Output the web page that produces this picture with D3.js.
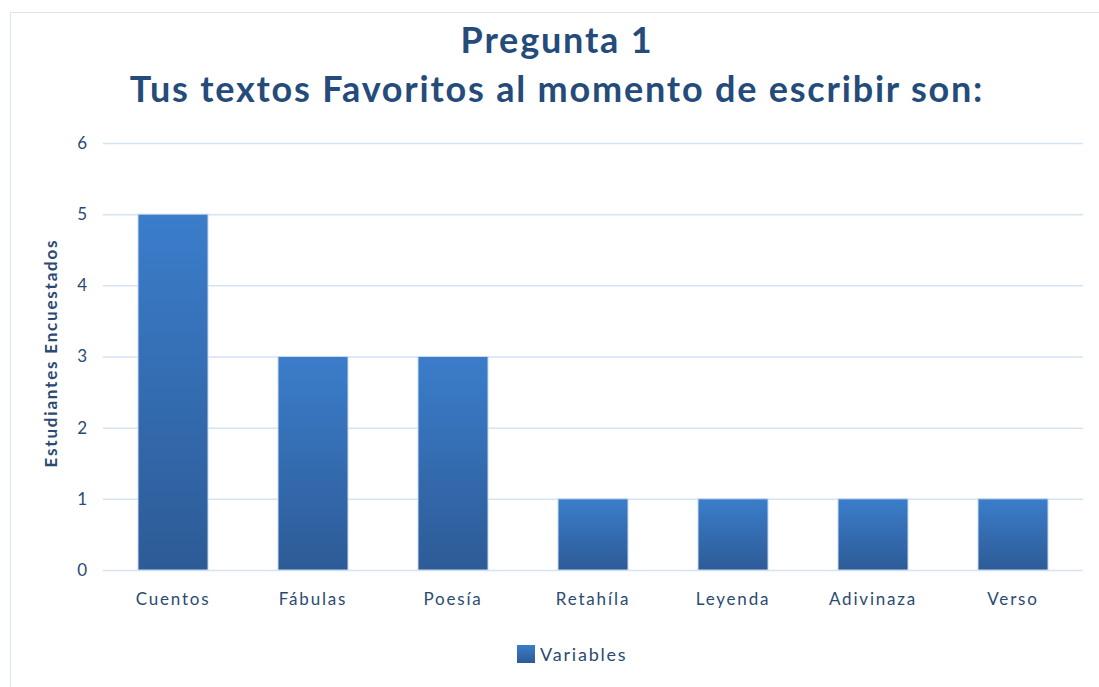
<!DOCTYPE html>
<html>
<head>
<meta charset="utf-8">
<script src="https://cdn.jsdelivr.net/npm/d3@7"></script>
<style>
  html, body { margin: 0; padding: 0; background: #fff; }
  svg { display: block; font-family: Lato, "Open Sans", sans-serif; }
</style>
</head>
<body>
<div id="chart"></div>
<script>
// Data
const CATEGORIES = ["Cuentos", "Fábulas", "Poesía", "Retahíla", "Leyenda", "Adivinaza", "Verso"];
const VALUES = [5, 3, 3, 1, 1, 1, 1];
const Y_TICKS = [0, 1, 2, 3, 4, 5, 6];
const TITLE_LINES = ["Pregunta 1", "Tus textos Favoritos al momento de escribir son:"];
const Y_TITLE = "Estudiantes Encuestados";
const SERIES_NAME = "Variables";

const W = 1099, H = 687;
const plot = { left: 103, right: 1083, top: 143, bottom: 570 };
const textColor = "#2b4a72";

const svg = d3.select("#chart").append("svg").attr("width", W).attr("height", H);

// bar gradient (lighter on top, darker at base)
const defs = svg.append("defs");
const grad = defs.append("linearGradient").attr("id", "barGrad")
  .attr("x1", 0).attr("y1", 0).attr("x2", 0).attr("y2", 1);
grad.append("stop").attr("offset", "0%").attr("stop-color", "#3b7dcb");
grad.append("stop").attr("offset", "100%").attr("stop-color", "#2d5b96");

// chart frame
svg.append("rect").attr("x", 10.5).attr("y", 12.5).attr("width", W).attr("height", H)
  .attr("fill", "none").attr("stroke", "#dce6f0");

const x = d3.scaleBand().domain(CATEGORIES).range([plot.left, plot.right]).paddingInner(0.5).paddingOuter(0.25);
const y = d3.scaleLinear().domain([0, 6]).range([plot.bottom, plot.top]);

// gridlines
svg.append("g").selectAll("line").data(Y_TICKS).enter().append("line")
  .attr("x1", plot.left).attr("x2", plot.right)
  .attr("y1", d => y(d) + 0.5).attr("y2", d => y(d) + 0.5)
  .attr("stroke", "#d6e3f3").attr("stroke-width", 1.5);

// y axis labels
const yAxis = svg.append("g").attr("transform", `translate(${plot.left - 6},0)`)
  .call(d3.axisLeft(y).tickValues(Y_TICKS).tickSize(0).tickPadding(10).tickFormat(d3.format("d")));
yAxis.select(".domain").remove();
yAxis.selectAll("text").attr("fill", textColor).attr("font-size", 17).attr("font-family", "Lato, sans-serif");

// x axis labels
const xAxis = svg.append("g").attr("transform", `translate(0,${plot.bottom})`)
  .call(d3.axisBottom(x).tickSize(0).tickPadding(23));
xAxis.select(".domain").remove();
xAxis.selectAll("text").attr("fill", textColor).attr("font-size", 17).attr("letter-spacing", 1.8)
  .attr("font-family", "Lato, sans-serif");

// bars
svg.append("g").selectAll("rect").data(VALUES).enter().append("rect")
  .attr("x", (d, i) => x(CATEGORIES[i]))
  .attr("width", x.bandwidth())
  .attr("y", d => y(d))
  .attr("height", d => y(0) - y(d))
  .attr("fill", "url(#barGrad)")
  .attr("stroke", "#c9d9ee").attr("stroke-width", 1);

// titles
svg.append("g").selectAll("text").data(TITLE_LINES).enter().append("text")
  .attr("x", 557).attr("y", (d, i) => 53 + i * 49)
  .attr("text-anchor", "middle").attr("font-weight", "bold").attr("font-size", 36)
  .attr("letter-spacing", 1.8).attr("fill", "#244b7a").text(d => d);

// y axis title
svg.append("text").attr("transform", `translate(57,353) rotate(-90)`)
  .attr("text-anchor", "middle").attr("font-weight", "bold").attr("font-size", 17)
  .attr("letter-spacing", 1.8).attr("fill", textColor).text(Y_TITLE);

// legend
const lg = svg.append("g").attr("transform", "translate(517,645)");
lg.append("rect").attr("width", 18).attr("height", 18).attr("fill", "url(#barGrad)");
lg.append("text").attr("x", 23).attr("y", 16).attr("font-size", 18).attr("fill", textColor)
  .attr("letter-spacing", 1.8).text(SERIES_NAME);
</script>
</body>
</html>
